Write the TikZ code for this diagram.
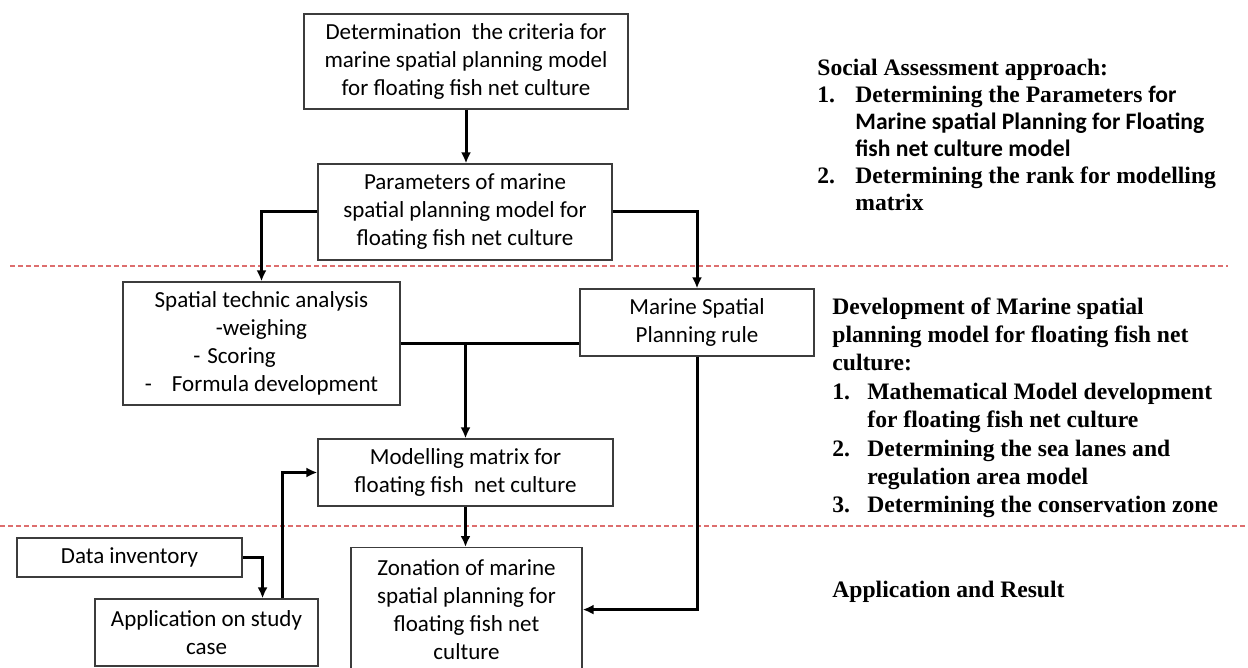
\documentclass[tikz,border=0pt]{standalone}
\usepackage{fontspec}
\setmainfont{Carlito}
\newfontfamily\notefont{Liberation Serif}
\newfontfamily\notesans{Carlito}
\usetikzlibrary{arrows.meta,calc}
\definecolor{cutline}{RGB}{221,110,110}
\definecolor{boxline}{RGB}{60,60,60}

\tikzset{
  stepbox/.style={draw=boxline, line width=0.6pt, align=center, inner sep=1pt,
    font=\fontsize{11.5}{14}\selectfont},
  flow/.style={line width=1.5pt, -{Latex[length=5.5pt,width=5pt]}},
  link/.style={line width=1.5pt},
  cut/.style={cutline, line width=0.6pt, dash pattern=on 2.5pt off 1.5pt},
  note/.style={align=left, inner sep=0pt, font=\notefont\bfseries\fontsize{11.8}{13.5}\selectfont},
}
\newcommand{\numitem}[3][19pt]{\makebox[#1][l]{#2}#3}

\begin{document}
\begin{tikzpicture}[x=0.5pt, y=-0.5pt]
		\clip (0,0) rectangle (1248,668);
		\fill[white] (0,0) rectangle (1248,668);
		
		% Stage separators
		\draw[cut] (10,266) -- (1228,266);
		\draw[cut] (0,526) -- (1248,526);
		
		% Boxes of the flow
		\node[stepbox, minimum width=162pt, minimum height=47.5pt] (crit) at (466,61.5)
		{Determination\ \ the criteria for\\ marine spatial planning model\\ for floating fish net culture};
		\node[stepbox, minimum width=147pt, minimum height=48pt] (param) at (465,212)
		{Parameters of marine\\ spatial planning model for\\ floating fish net culture};
		\node[stepbox, minimum width=138.5pt, minimum height=61.5pt] (tech) at (261.5,343.5)
		{Spatial technic analysis\\ -weighing\\ -\hspace{3.5pt}Scoring\rule{27pt}{0pt}\\ -\hspace{10pt}Formula development};
		\node[stepbox, minimum width=117pt, minimum height=33.5pt] (rule) at (697,322.5)
		{Marine Spatial\\ Planning rule};
		\node[stepbox, minimum width=147.5pt, minimum height=33.5pt] (mmat) at (465.5,472.5)
		{Modelling matrix for\\ floating fish\ \ net culture};
		\node[stepbox, anchor=north, minimum width=115.5pt, minimum height=62pt] (zone) at (466.5,547)
		{Zonation of marine\\ spatial planning for\\ floating fish net\\ culture};
		\node[stepbox, minimum width=112.5pt, minimum height=19.5pt] (data) at (129.5,557.5)
		{Data inventory};
		\node[stepbox, minimum width=111.5pt, minimum height=33.5pt] (app) at (206.5,632.5)
		{Application on study\\ case};
		
		% Connectors
		\draw[flow] (crit.south) -- (crit.south |- param.north);
		\draw[flow] (param.west) -| (tech.north);
		\draw[flow] (param.east) -| (rule.north);
		\coordinate (join) at (tech.east -| mmat.north);
		\draw[link] (tech.east) -- (tech.east -| rule.west);
		\draw[flow] (join) -- (mmat.north);
		\draw[flow] (mmat.south) -- (mmat.south |- zone.north);
		\draw[flow] (rule.south) |- (zone.east);
		\draw[flow] (data.east) -| ($(app.north west)!0.75!(app.north east)$);
		\draw[flow] ($(app.north west)!0.84!(app.north east)$) |- (mmat.west);
		
		% Notes on the right
		\node[note, anchor=north west] (social) at (817,59)
		{Social Assessment approach:\\
			\numitem{1.}{Determining the Parameters {\notesans\bfseries for}}\\
			\hspace*{19pt}{\notesans\bfseries Marine spatial Planning for Floating}\\
			\hspace*{19pt}{\notesans\bfseries fish net culture model}\\
			\numitem{2.}{Determining the rank for modelling}\\
			\hspace*{19pt}matrix};
		\node[note, anchor=north west, font=\notefont\bfseries\fontsize{11.8}{14.2}\selectfont] (devel) at (832,297)
		{Development of Marine spatial\\
			planning model for floating fish net\\
			culture:\\
			\numitem[17.5pt]{1.}{Mathematical Model development}\\
			\hspace*{17.5pt}for floating fish net culture\\
			\numitem[17.5pt]{2.}{Determining the sea lanes and}\\
			\hspace*{17.5pt}regulation area model\\
			\numitem[17.5pt]{3.}{Determining the conservation zone}};
		\node[note, anchor=west] (result) at (832,592) {Application and Result};
		
	\end{tikzpicture}
\end{document}
